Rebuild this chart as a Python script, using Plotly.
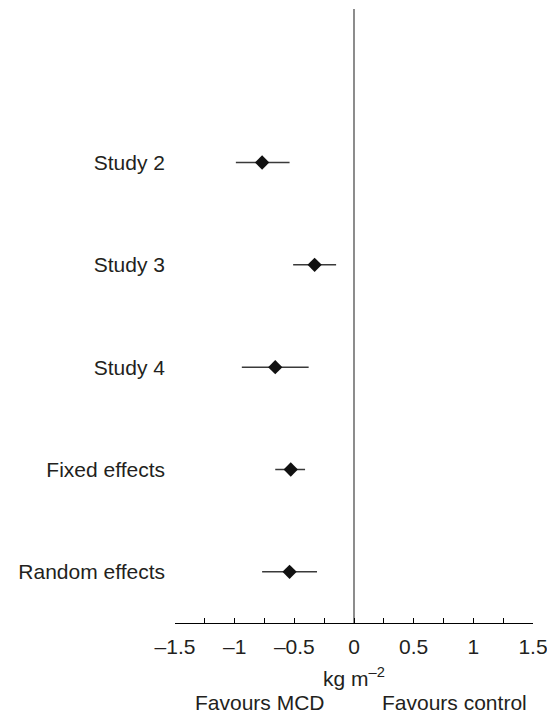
import plotly.graph_objects as go

studies = ["Study 2", "Study 3", "Study 4", "Fixed effects", "Random effects"]
rows = [2, 3, 4, 5, 6]
estimate = [-0.77, -0.33, -0.66, -0.53, -0.54]
ci_low = [-0.99, -0.51, -0.94, -0.66, -0.77]
ci_high = [-0.54, -0.15, -0.38, -0.41, -0.31]
tick_vals = [-1.5, -1, -0.5, 0, 0.5, 1, 1.5]
tick_text = ["–1.5", "–1", "–0.5", "0", "0.5", "1", "1.5"]

FONT = "Liberation Sans, Arial, sans-serif"
TXT = "#231f20"

fig = go.Figure()

# CI lines
for r, lo, hi in zip(rows, ci_low, ci_high):
    fig.add_trace(go.Scatter(x=[lo, hi], y=[r, r], mode="lines",
                             line=dict(color="#3a3a3a", width=1.5),
                             showlegend=False, hoverinfo="skip"))

fig.add_trace(go.Scatter(x=estimate, y=rows, mode="markers",
                         marker=dict(symbol="diamond", size=11, color="#111111"),
                         showlegend=False))

fig.add_shape(type="line", xref="x", yref="paper", x0=0, x1=0, y0=0, y1=1,
              line=dict(color="#707070", width=1.6), layer="below")

fig.update_xaxes(range=[-1.5, 1.5], tickvals=tick_vals, ticktext=tick_text,
                 showline=True, linecolor="black", linewidth=1,
                 ticks="inside", ticklen=5, tickcolor="black",
                 minor=dict(ticks="inside", ticklen=5, dtick=0.25, tickcolor="black"),
                 showgrid=False, zeroline=False, ticklabelstandoff=5,
                 tickfont=dict(family=FONT, size=21, color=TXT))
fig.update_yaxes(range=[6.5, 0.5], tickvals=rows, ticktext=studies,
                 showline=False, showgrid=False, zeroline=False, ticks="",
                 ticklabelstandoff=9,
                 tickfont=dict(family=FONT, size=21, color=TXT))

fig.add_annotation(x=0, y=-0.088, xref="x", yref="paper", text="kg m<sup>–2</sup>",
                   yanchor="middle", showarrow=False,
                   font=dict(family=FONT, size=21, color=TXT))
fig.add_annotation(x=-0.79, y=-0.1287, xref="x", yref="paper", text="Favours MCD",
                   yanchor="middle", showarrow=False,
                   font=dict(family=FONT, size=21, color=TXT))
fig.add_annotation(x=0.84, y=-0.1287, xref="x", yref="paper", text="Favours control",
                   yanchor="middle", showarrow=False,
                   font=dict(family=FONT, size=21, color=TXT))

fig.update_layout(width=547, height=705, margin=dict(l=167, r=22, t=1, b=90),
                  plot_bgcolor="white", paper_bgcolor="white",
                  font=dict(family=FONT, size=21, color=TXT))

fig.write_html("out.html")
